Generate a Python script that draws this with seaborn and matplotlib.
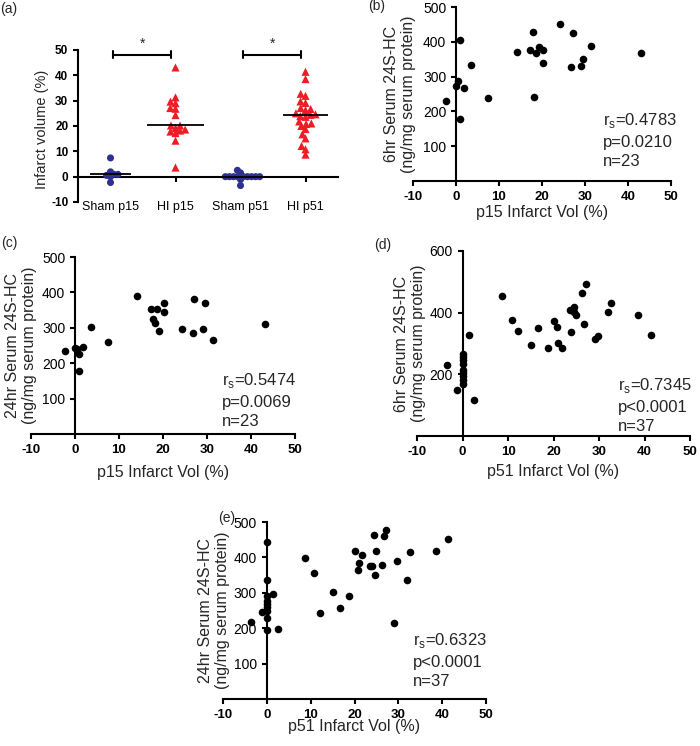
import numpy as np
import pandas as pd
import matplotlib
matplotlib.use('Agg')
import matplotlib.pyplot as plt
from matplotlib.collections import PathCollection
import seaborn as sns

# ---------------- data ----------------
groups = ['Sham p15', 'HI p15', 'Sham p51', 'HI p51']

# p15 animals (infarct %, 6hr and 24hr serum 24S-HC)
p15_infarct = [-2.3, 0.0, 0.5, 0.9, 0.9, 1.9, 7.4,
               3.6, 14.2, 17.2, 17.8, 18.2, 18.6, 19.2, 20.2, 20.2, 24.3,
               26.8, 27.1, 29.0, 29.6, 31.3, 43.1]
p15_group = ['Sham p15'] * 7 + ['HI p15'] * 16
p15_hc6 = [230, 272, 288, 406, 177, 266, 239,
           333, 370, 377, 427, 240, 369, 385, 377, 340, 451,
           327, 425, 330, 350, 388, 367]
p15_hc24 = [235, 242, 240, 227, 178, 247, 259,
            302, 390, 352, 326, 313, 354, 291, 370, 346, 296,
            285, 382, 296, 370, 265, 310]

# p51 animals
p51_infarct = [-3.5, -1.1, 0, 0, 0, 0, 0, 0, 0, 0, 0, 1.5, 2.5,
               8.7, 10.8, 12.1, 15.1, 16.7, 18.8, 20.0, 20.8, 21.0, 21.8,
               23.6, 23.9, 24.4, 24.6, 25.0, 26.3, 26.7, 27.1, 29.1, 29.7,
               31.9, 32.7, 38.5, 41.4]
p51_group = ['Sham p51'] * 13 + ['HI p51'] * 24
p51_hc6 = [231, 148, 265, 256, 246, 235, 214, 203, 194, 183, 170, 328, 116,
           454, 376, 340, 296, 351, 286, 372, 355, 302, 287,
           410, 337, 419, 402, 391, 465, 363, 494, 316, 323,
           402, 430, 392, 329]
p51_hc24 = [217, 245, 443, 335, 290, 277, 269, 260, 250, 229, 194, 298, 199,
            398, 357, 243, 302, 256, 290, 418, 363, 384, 406,
            376, 376, 462, 351, 417, 378, 460, 476, 215, 391,
            335, 415, 417, 453]

x_ticks_scatter = [-10, 0, 10, 20, 30, 40, 50]
a_yticks = [-10, 0, 10, 20, 30, 40, 50]

stats_b = ['0.4783', 'p=0.0210', 'n=23']
stats_c = ['0.5474', 'p=0.0069', 'n=23']
stats_d = ['0.7345', 'p<0.0001', 'n=37']
stats_e = ['0.6323', 'p<0.0001', 'n=37']

# ---------------- style ----------------
sns.set_style('ticks')
plt.rcParams['font.family'] = ['Liberation Sans', 'DejaVu Sans']
plt.rcParams['mathtext.fontset'] = 'custom'
plt.rcParams['mathtext.rm'] = 'Liberation Sans'
plt.rcParams['axes.linewidth'] = 1.5
plt.rcParams['xtick.major.width'] = 1.5
plt.rcParams['ytick.major.width'] = 1.5
plt.rcParams['xtick.major.size'] = 3.5
plt.rcParams['ytick.major.size'] = 3.5
plt.rcParams['axes.edgecolor'] = 'black'
plt.rcParams['xtick.color'] = 'black'
plt.rcParams['ytick.color'] = 'black'

NAVY = '#2e3192'
RED = '#ee1c24'
MEDIAN_HALF_WIDTH = [0.32, 0.44, 0.36, 0.35]

W, H = 700, 746
fig = plt.figure(figsize=(W / 100, H / 100), dpi=100)


def add_ax(left, top, right, bottom):
    return fig.add_axes([left / W, 1 - bottom / H, (right - left) / W, (bottom - top) / H])


def ftext(x, y, s, **kw):
    fig.text(x / W, 1 - y / H, s, **kw)


def fmt(v):
    return str(v)


# ---------------- panel (a) ----------------
df_a = pd.DataFrame({
    'group': p15_group + p51_group,
    'value': p15_infarct + p51_infarct,
})
ax = add_ax(78, 50, 338, 202)
ax.set_xlim(-0.5, 3.5)
ax.set_ylim(-10, 50)
sham = df_a[df_a['group'].str.startswith('Sham')]
hi = df_a[df_a['group'].str.startswith('HI')]
# compact swarm: lay out with small markers, then enlarge (GraphPad-style overlap)
sns.swarmplot(data=sham, x='group', y='value', order=groups, color=NAVY,
              marker='o', size=2.8, linewidth=0, ax=ax)
sns.swarmplot(data=hi, x='group', y='value', order=groups, color=RED,
              marker='^', size=3.6, linewidth=0, ax=ax)
ax.set_xlim(-0.5, 3.5)
ax.set_ylim(-10, 50)
for i, g in enumerate(groups):
    med = np.median(df_a.loc[df_a['group'] == g, 'value'])
    hw = MEDIAN_HALF_WIDTH[i]
    ax.hlines(med, i - hw, i + hw, color='black', lw=1.3, zorder=5)
ax.set_yticks(a_yticks, labels=[fmt(v) for v in a_yticks], fontweight='bold', fontsize=8.5)
ax.spines['top'].set_visible(False)
ax.spines['right'].set_visible(False)
ax.spines['bottom'].set_position(('data', 0))
ax.tick_params(axis='x', labelsize=9, pad=14)
ax.set_xlabel('')
ax.set_ylabel('Infarct volume (%)', fontsize=10.5)
ax.yaxis.set_label_coords(-(78 - 42) / 260, (202 - 129) / 152)
ax.yaxis.label.set_verticalalignment('center')
# significance brackets
for a, b in [(0, 1), (2, 3)]:
    x0, x1 = a + 0.04, a + 0.93
    ax.plot([x0, x1], [48.2, 48.2], color='black', lw=1.5, clip_on=False)
    for xx in (x0, x1):
        ax.plot([xx, xx], [46.8, 49.6], color='black', lw=1.5, clip_on=False)
    ax.text((x0 + x1) / 2, 52.5, '*', ha='center', va='center', fontsize=10,
            clip_on=False)
ftext(9, 9, '(a)', fontsize=10, ha='center', va='center')

fig.canvas.draw()
for coll in list(ax.collections):
    if isinstance(coll, PathCollection) and 'draw' in coll.__dict__:
        del coll.draw
        n = len(coll.get_offsets())
        fc = coll.get_facecolor()
        is_tri = np.allclose(fc[0][:3], matplotlib.colors.to_rgb(RED), atol=0.02)
        coll.set_sizes(np.full(n, 34.0 if is_tri else 26.0))


# ---------------- scatter panels ----------------
def scatter_panel(box, x, y, ymax, yticks, xlab, ylab, stats, label, label_xy,
                  ylab_x, xlab_y, stat_x, stat_ys):
    left, top, right, bottom = box
    ax = add_ax(left, top, right, bottom)
    d = pd.DataFrame({'x': x, 'y': y})
    sns.scatterplot(data=d, x='x', y='y', color='black', s=30, linewidth=0,
                    ax=ax, zorder=3, clip_on=False)
    ax.set_xlim(-10, 50)
    ax.set_ylim(0, ymax)
    ax.set_xticks(x_ticks_scatter, labels=[fmt(v) for v in x_ticks_scatter],
                  fontweight='bold', fontsize=9.5)
    ax.set_yticks(yticks, labels=[fmt(v) for v in yticks],
                  fontweight='bold', fontsize=9.5)
    ax.spines['top'].set_visible(False)
    ax.spines['right'].set_visible(False)
    ax.spines['left'].set_position(('data', 0))
    ax.set_xlabel(xlab, fontsize=11.5)
    ax.set_ylabel(ylab, fontsize=11.5, linespacing=1.15)
    wpx, hpx = right - left, bottom - top
    ax.yaxis.set_label_coords((ylab_x - left) / wpx, 0.5)
    ax.yaxis.label.set_verticalalignment('center')
    ax.xaxis.set_label_coords(0.5, (bottom - xlab_y) / hpx)
    ax.xaxis.label.set_verticalalignment('center')
    rs, p, n = stats
    texts = [r'r$_\mathregular{s}$=' + rs, p, n]
    for s, sy in zip(texts, stat_ys):
        ax.text((stat_x - left) / wpx, (bottom - sy) / hpx, s,
                transform=ax.transAxes, fontsize=12, ha='left', va='center')
    ftext(label_xy[0], label_xy[1], label, fontsize=10, ha='center', va='center')
    return ax


ylab6 = '6hr Serum 24S-HC\n(ng/mg serum protein)'
ylab24 = '24hr Serum 24S-HC\n(ng/mg serum protein)'

scatter_panel((413, 7, 671, 181), p15_infarct, p15_hc6, 500, [100, 200, 300, 400, 500],
              'p15 Infarct Vol (%)', ylab6, stats_b, '(b)', (377, 6),
              400, 213, 603, (120, 142, 161))
scatter_panel((31, 257, 295, 434), p15_infarct, p15_hc24, 500, [100, 200, 300, 400, 500],
              'p15 Infarct Vol (%)', ylab24, stats_c, '(c)', (9, 243),
              21, 472, 222, (380, 402, 421))
scatter_panel((417, 251, 690, 436), p51_infarct, p51_hc6, 600, [200, 400, 600],
              'p51 Infarct Vol (%)', ylab6, stats_d, '(d)', (383, 245),
              410, 472, 618, (386, 408, 427))
scatter_panel((223, 522, 486, 699), p51_infarct, p51_hc24, 500, [100, 200, 300, 400, 500],
              'p51 Infarct Vol (%)', ylab24, stats_e, '(e)', (227, 518),
              214, 727, 413, (641, 663, 681))

fig.savefig('out.png', dpi=100)
